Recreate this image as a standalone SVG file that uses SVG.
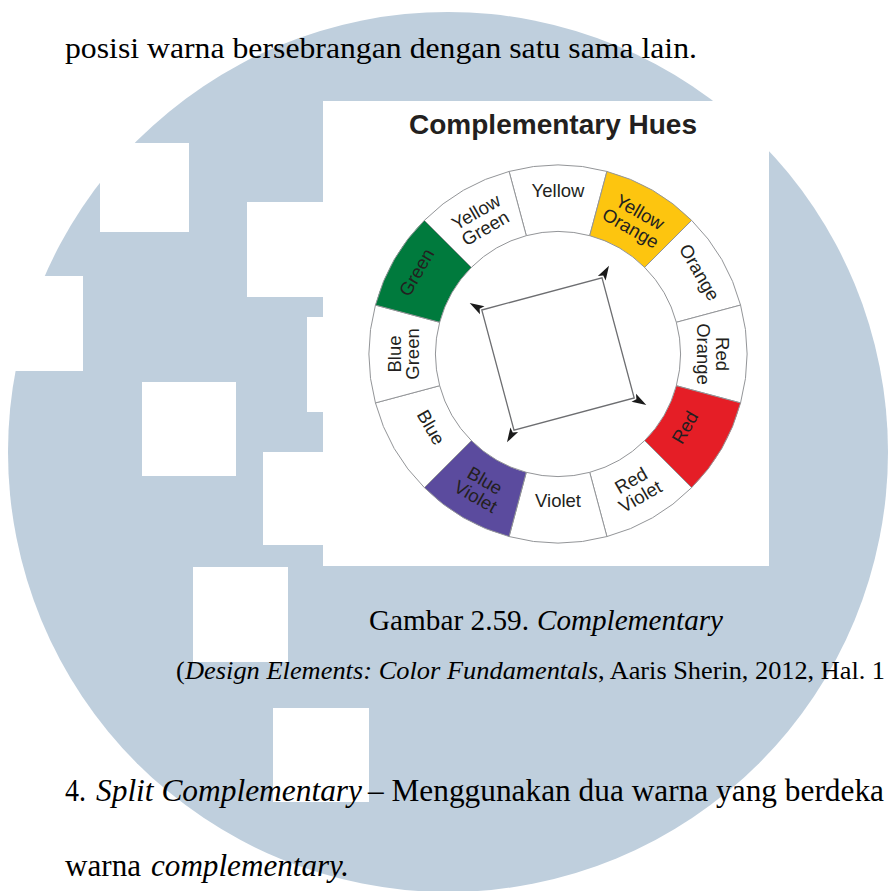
<svg xmlns="http://www.w3.org/2000/svg" xmlns:xlink="http://www.w3.org/1999/xlink" width="888" height="891" viewBox="0 0 888 891">
<style>
.wm{fill:#ffffff}
.seg{stroke:#939598;stroke-width:1;fill:#ffffff}
.lbl{font-family:"Liberation Sans",Arial,Helvetica,sans-serif;font-size:18.5px;fill:#231f20;text-anchor:middle}
.body{font-family:"Liberation Serif","Times New Roman",serif;fill:#000000}
.it{font-style:italic}
.conn{stroke:#6d6e71;stroke-width:1.3;fill:none}
</style>
<defs>
<path id="ah" d="M0 -14 L4.5 0.5 L0 -2.5 L-4.5 0.5 Z" fill="#1a1a1a"/>
</defs>
<rect x="0" y="0" width="888" height="891" fill="#ffffff"/>
<g id="watermark">
<circle cx="448" cy="452" r="440" fill="#bfcfdd"/>
<rect class="wm" x="100" y="143" width="89" height="89"/>
<rect class="wm" x="247" y="202" width="80" height="95"/>
<rect class="wm" x="-10" y="276" width="93" height="95"/>
<rect class="wm" x="307" y="317" width="20" height="95"/>
<rect class="wm" x="142" y="382" width="94" height="94"/>
<rect class="wm" x="263" y="452" width="64" height="93"/>
<rect class="wm" x="193" y="567" width="95" height="95"/>
<rect class="wm" x="273" y="708" width="96" height="94"/>
</g>
<text class="body" x="65" y="58" font-size="30" textLength="632" lengthAdjust="spacingAndGlyphs">posisi warna bersebrangan dengan satu sama lain.</text>
<g id="figure">
<rect x="323" y="101" width="446" height="465" fill="#ffffff"/>
<text x="553" y="134" font-family="'Liberation Sans',Arial,Helvetica,sans-serif" font-weight="bold" font-size="27.5" fill="#231f20" text-anchor="middle" textLength="288" lengthAdjust="spacingAndGlyphs">Complementary Hues</text>
</g>
<g id="wheel">
<g id="seg-yellow">
<path class="seg" d="M509.08 171.44 A189 189 0 0 1 606.92 171.44 L589.71 235.67 A122.5 122.5 0 0 0 526.29 235.67 Z"/>
<g transform="translate(558 354) rotate(0)"><text class="lbl" y="-157">Yellow</text></g>
</g>
<g id="seg-yellow-orange">
<path class="seg" style="fill:#fdc50f" d="M606.92 171.44 A189 189 0 0 1 691.64 220.36 L644.62 267.38 A122.5 122.5 0 0 0 589.71 235.67 Z"/>
<g transform="translate(558 354) rotate(30)"><text class="lbl" y="-157.5">Yellow</text><text class="lbl" y="-139">Orange</text></g>
</g>
<g id="seg-orange">
<path class="seg" d="M691.64 220.36 A189 189 0 0 1 740.56 305.08 L676.33 322.29 A122.5 122.5 0 0 0 644.62 267.38 Z"/>
<g transform="translate(558 354) rotate(60)"><text class="lbl" y="-157">Orange</text></g>
</g>
<g id="seg-red-orange">
<path class="seg" d="M740.56 305.08 A189 189 0 0 1 740.56 402.92 L676.33 385.71 A122.5 122.5 0 0 0 676.33 322.29 Z"/>
<g transform="translate(558 354) rotate(90)"><text class="lbl" y="-157.5">Red</text><text class="lbl" y="-139">Orange</text></g>
</g>
<g id="seg-red">
<path class="seg" style="fill:#e51e26" d="M740.56 402.92 A189 189 0 0 1 691.64 487.64 L644.62 440.62 A122.5 122.5 0 0 0 676.33 385.71 Z"/>
<g transform="translate(558 354) rotate(-60)"><text class="lbl" y="153">Red</text></g>
</g>
<g id="seg-red-violet">
<path class="seg" d="M691.64 487.64 A189 189 0 0 1 606.92 536.56 L589.71 472.33 A122.5 122.5 0 0 0 644.62 440.62 Z"/>
<g transform="translate(558 354) rotate(-30)"><text class="lbl" y="152.5">Red</text><text class="lbl" y="171">Violet</text></g>
</g>
<g id="seg-violet">
<path class="seg" d="M606.92 536.56 A189 189 0 0 1 509.08 536.56 L526.29 472.33 A122.5 122.5 0 0 0 589.71 472.33 Z"/>
<g transform="translate(558 354) rotate(0)"><text class="lbl" y="153">Violet</text></g>
</g>
<g id="seg-blue-violet">
<path class="seg" style="fill:#5b4b9e" d="M509.08 536.56 A189 189 0 0 1 424.36 487.64 L471.38 440.62 A122.5 122.5 0 0 0 526.29 472.33 Z"/>
<g transform="translate(558 354) rotate(30)"><text class="lbl" y="152.5">Blue</text><text class="lbl" y="171">Violet</text></g>
</g>
<g id="seg-blue">
<path class="seg" d="M424.36 487.64 A189 189 0 0 1 375.44 402.92 L439.67 385.71 A122.5 122.5 0 0 0 471.38 440.62 Z"/>
<g transform="translate(558 354) rotate(60)"><text class="lbl" y="153">Blue</text></g>
</g>
<g id="seg-blue-green">
<path class="seg" d="M375.44 402.92 A189 189 0 0 1 375.44 305.08 L439.67 322.29 A122.5 122.5 0 0 0 439.67 385.71 Z"/>
<g transform="translate(558 354) rotate(-90)"><text class="lbl" y="-157.5">Blue</text><text class="lbl" y="-139">Green</text></g>
</g>
<g id="seg-green">
<path class="seg" style="fill:#007a3d" d="M375.44 305.08 A189 189 0 0 1 424.36 220.36 L471.38 267.38 A122.5 122.5 0 0 0 439.67 322.29 Z"/>
<g transform="translate(558 354) rotate(-60)"><text class="lbl" y="-157">Green</text></g>
</g>
<g id="seg-yellow-green">
<path class="seg" d="M424.36 220.36 A189 189 0 0 1 509.08 171.44 L526.29 235.67 A122.5 122.5 0 0 0 471.38 267.38 Z"/>
<g transform="translate(558 354) rotate(-30)"><text class="lbl" y="-157.5">Yellow</text><text class="lbl" y="-139">Green</text></g>
</g>
</g>
<g id="connectors">
<path class="conn" d="M481.79 310 L602 277.79 L634.21 398 L514 430.21 Z"/>
<use xlink:href="#ah" transform="translate(558 354) rotate(30) translate(0 -88)"/>
<use xlink:href="#ah" transform="translate(558 354) rotate(120) translate(0 -88)"/>
<use xlink:href="#ah" transform="translate(558 354) rotate(210) translate(0 -88)"/>
<use xlink:href="#ah" transform="translate(558 354) rotate(300) translate(0 -88)"/>
</g>
<g id="captions">
<text class="body" x="369" y="630" font-size="30" textLength="160" lengthAdjust="spacingAndGlyphs">Gambar 2.59.</text>
<text class="body it" x="537" y="630" font-size="30" textLength="186" lengthAdjust="spacingAndGlyphs">Complementary</text>
<text class="body" x="176" y="679" font-size="26.2">(</text>
<text class="body it" x="185" y="679" font-size="26.2" textLength="413" lengthAdjust="spacingAndGlyphs">Design Elements: Color Fundamentals</text>
<text class="body" x="598" y="679" font-size="26.2" textLength="287" lengthAdjust="spacingAndGlyphs">, Aaris Sherin, 2012, Hal. 1</text>
</g>
<g id="bodytext">
<text class="body" x="65" y="801" font-size="31.3" textLength="21" lengthAdjust="spacingAndGlyphs">4.</text>
<text class="body it" x="96" y="801" font-size="31.3" textLength="266" lengthAdjust="spacingAndGlyphs">Split Complementary</text>
<text class="body" x="368" y="801" font-size="31.3" textLength="516" lengthAdjust="spacingAndGlyphs">– Menggunakan dua warna yang berdeka</text>
<text class="body" x="65" y="876" font-size="31.5" textLength="76" lengthAdjust="spacingAndGlyphs">warna</text>
<text class="body it" x="151" y="876" font-size="32.5" textLength="198" lengthAdjust="spacingAndGlyphs">complementary.</text>
</g>
</svg>
